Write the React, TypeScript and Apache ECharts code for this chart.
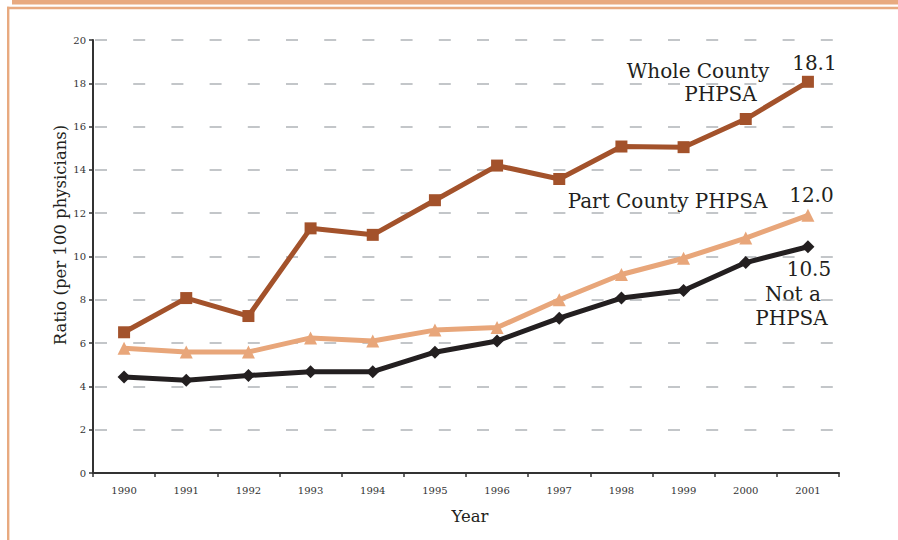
import React, { useEffect, useRef } from "react";
import * as echarts from "echarts";

const years = ["1990", "1991", "1992", "1993", "1994", "1995", "1996", "1997", "1998", "1999", "2000", "2001"];
const wholeCounty = [6.5, 8.08, 7.25, 11.3, 11.0, 12.6, 14.2, 13.58, 15.08, 15.05, 16.35, 18.07];
const partCounty = [5.76, 5.59, 5.59, 6.24, 6.1, 6.6, 6.72, 8.0, 9.17, 9.92, 10.85, 11.9];
const notPhpsa = [4.43, 4.28, 4.5, 4.68, 4.68, 5.58, 6.1, 7.15, 8.08, 8.43, 9.72, 10.45];
const endLabels = ["18.1", "12.0", "10.5"];

const SERIF = "DejaVu Serif";
const FRAME = "#e8aa80";
const TEXT = "#231f20";

function withEndLabel(values: number[], text: string, label: any) {
  return values.map((v, i) =>
    i === values.length - 1 ? { value: v, label: { show: true, formatter: text, ...label } } : v
  );
}

export default function App() {
  const ref = useRef<HTMLDivElement>(null);
  useEffect(() => {
    document.body.style.margin = "0";
    const chart = echarts.init(ref.current!, null, { renderer: "svg" });
    const labelFont = { fontFamily: SERIF, fontSize: 20, color: TEXT };
    chart.setOption({
      animation: false,
      backgroundColor: "#ffffff",
      grid: { left: 93, right: 59, top: 40, bottom: 67 },
      xAxis: {
        type: "category",
        data: years,
        boundaryGap: true,
        axisLine: { lineStyle: { color: "#333333", width: 2 } },
        axisTick: { show: true, length: 4, lineStyle: { color: "#333333", width: 1.5 } },
        axisLabel: { fontFamily: SERIF, fontSize: 10, color: "#333333", margin: 12 },
        splitLine: { show: false },
      },
      yAxis: {
        type: "value",
        min: 0,
        max: 20,
        interval: 2,
        axisLine: { show: true, lineStyle: { color: "#333333", width: 2 } },
        axisTick: { show: true, length: 4, lineStyle: { color: "#333333", width: 1.5 } },
        axisLabel: { fontFamily: SERIF, fontSize: 10, color: "#333333", margin: 7 },
        splitLine: {
          show: true,
          lineStyle: { color: "#b0b4b8", width: 1.6, type: [12, 26.2], dashOffset: -2 },
        },
      },
      series: [
        {
          name: "Whole County PHPSA",
          type: "line",
          data: withEndLabel(wholeCounty, endLabels[0], { position: "top", offset: [6.5, 2], ...labelFont }),
          symbol: "rect",
          symbolSize: 12,
          lineStyle: { color: "#a3522b", width: 5 },
          itemStyle: { color: "#a3522b" },
          z: 3,
        },
        {
          name: "Part County PHPSA",
          type: "line",
          data: withEndLabel(partCounty, endLabels[1], { position: "top", offset: [3.5, 1], ...labelFont }),
          symbol: "triangle",
          symbolSize: 13,
          lineStyle: { color: "#e8a67a", width: 5 },
          itemStyle: { color: "#e8a67a" },
          z: 2,
        },
        {
          name: "Not a PHPSA",
          type: "line",
          data: withEndLabel(notPhpsa, endLabels[2], { position: "bottom", offset: [1, 1], ...labelFont }),
          symbol: "diamond",
          symbolSize: 13,
          lineStyle: { color: "#231f20", width: 5 },
          itemStyle: { color: "#231f20" },
          z: 4,
        },
      ],
      graphic: [
        { type: "rect", shape: { x: 12, y: 0, width: 900, height: 4.5 }, style: { fill: FRAME }, silent: true },
        { type: "rect", shape: { x: 7, y: 6.7, width: 900, height: 2.6 }, style: { fill: FRAME }, silent: true },
        { type: "rect", shape: { x: 7, y: 6.7, width: 2.4, height: 540 }, style: { fill: FRAME }, silent: true },
        {
          type: "text",
          x: 60,
          y: 235,
          rotation: Math.PI / 2,
          style: { text: "Ratio (per 100 physicians)", fontFamily: SERIF, fontSize: 16.5, fill: TEXT, align: "center", verticalAlign: "middle" },
        },
        {
          type: "text",
          x: 470,
          y: 516,
          style: { text: "Year", fontFamily: SERIF, fontSize: 16.5, fill: TEXT, align: "center", verticalAlign: "middle" },
        },
        { type: "text", x: 698, y: 71, style: { text: "Whole County", fontFamily: SERIF, fontSize: 20, fill: TEXT, align: "center", verticalAlign: "middle" } },
        { type: "text", x: 720.5, y: 94, style: { text: "PHPSA", fontFamily: SERIF, fontSize: 20, fill: TEXT, align: "center", verticalAlign: "middle" } },
        { type: "text", x: 667.5, y: 201, style: { text: "Part County PHPSA", fontFamily: SERIF, fontSize: 20, fill: TEXT, align: "center", verticalAlign: "middle" } },
        { type: "text", x: 793, y: 294, style: { text: "Not a", fontFamily: SERIF, fontSize: 20, fill: TEXT, align: "center", verticalAlign: "middle" } },
        { type: "text", x: 791.5, y: 318, style: { text: "PHPSA", fontFamily: SERIF, fontSize: 20, fill: TEXT, align: "center", verticalAlign: "middle" } },
      ],
    });
    return () => chart.dispose();
  }, []);
  return <div ref={ref} style={{ width: 898, height: 540 }} />;
}
